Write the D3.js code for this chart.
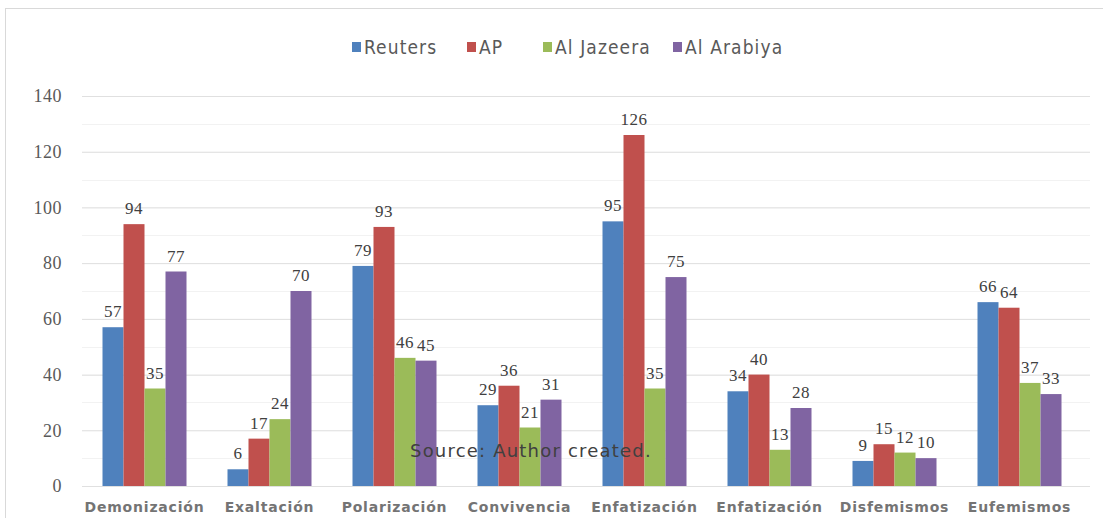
<!DOCTYPE html>
<html>
<head>
<meta charset="utf-8">
<script src="https://d3js.org/d3.v7.min.js"></script>
<style>
body { margin:0; background:#fff; }
</style>
</head>
<body>
<svg width="1103" height="518"></svg>
<script>
var categories = ["Demonización","Exaltación","Polarización","Convivencia","Enfatización","Enfatización","Disfemismos","Eufemismos"];
var seriesNames = ["Reuters","AP","Al Jazeera","Al Arabiya"];
var reuters = [57, 6, 79, 29, 95, 34, 9, 66];
var ap = [94, 17, 93, 36, 126, 40, 15, 64];
var alJazeera = [35, 24, 46, 21, 35, 13, 12, 37];
var alArabiya = [77, 70, 45, 31, 75, 28, 10, 33];
var yTicks = [0, 20, 40, 60, 80, 100, 120, 140];
var colors = ["#4f81bd","#c0504d","#9bbb59","#8064a2"];

var series = [reuters, ap, alJazeera, alArabiya];
var svg = d3.select("svg");

// outer frame
svg.append("rect").attr("x",5.5).attr("y",8.5).attr("width",1110).attr("height",530)
    .attr("fill","none").attr("stroke","#d9d9d9");

var x0 = d3.scaleBand().domain(d3.range(categories.length)).range([82,1082]);
var x1 = d3.scaleBand().domain(d3.range(4)).range([0, 84]);
var y = d3.scaleLinear().domain([0,140]).range([486,96]);

// minor gridlines
svg.append("g").selectAll("line").data(d3.range(10,140,10)).enter().append("line")
    .attr("x1",82).attr("x2",1090)
    .attr("y1",function(d){return Math.round(y(d))+0.5;})
    .attr("y2",function(d){return Math.round(y(d))+0.5;})
    .attr("stroke","#f2f2f2");

var yaxis = d3.axisLeft(y).tickValues(yTicks).tickSize(-1008).tickPadding(20);
var gy = svg.append("g").attr("transform","translate(82,0)").call(yaxis);
gy.select(".domain").remove();
gy.selectAll("line").attr("stroke","#e0e0e0");
gy.selectAll("text").style("font-family","Liberation Serif, DejaVu Serif").style("font-size","18px")
    .style("letter-spacing","0.5px").attr("fill","#595959");

// bars
var groups = svg.append("g").selectAll("g").data(categories).enter().append("g")
    .attr("transform",function(d,i){return "translate(" + (x0(i) + x0.bandwidth()/2 - 42) + ",0)";});

for (var s = 0; s < 4; s++) {
    (function(s){
        groups.append("rect")
            .attr("x", x1(s))
            .attr("width", x1.bandwidth())
            .attr("y", function(d,i){return y(series[s][i]);})
            .attr("height", function(d,i){return y(0) - y(series[s][i]);})
            .attr("fill", colors[s]);
        groups.append("text")
            .text(function(d,i){return series[s][i];})
            .attr("x", x1(s) + x1.bandwidth()/2)
            .attr("y", function(d,i){return y(series[s][i]) - 10;})
            .attr("text-anchor","middle")
            .style("font-family","Liberation Serif, DejaVu Serif")
            .style("font-size","17px")
            .style("letter-spacing","0.5px")
            .attr("fill","#404040");
    })(s);
}

// category labels
svg.append("g").selectAll("text").data(categories).enter().append("text")
    .text(function(d){return d;})
    .attr("x",function(d,i){return x0(i) + x0.bandwidth()/2;})
    .attr("y",512)
    .attr("text-anchor","middle")
    .style("font-family","DejaVu Sans")
    .style("font-weight","bold")
    .style("font-size","14px")
    .style("letter-spacing","0.8px")
    .attr("fill","#747474");

// legend
var legendX = [352, 467, 543, 673];
var legend = svg.append("g").selectAll("g").data(seriesNames).enter().append("g")
    .attr("transform",function(d,i){return "translate(" + legendX[i] + ",47)";});
legend.append("rect").attr("x",0).attr("y",-5).attr("width",9).attr("height",10)
    .attr("fill",function(d,i){return colors[i];});
legend.append("text").text(function(d){return d;})
    .attr("x",12).attr("y",7)
    .style("font-family","DejaVu Sans Condensed, DejaVu Sans")
    .style("font-stretch","condensed")
    .style("font-size","19px")
    .style("letter-spacing","1.1px")
    .attr("fill","#595959");

svg.append("text").text("Source: Author created.")
    .attr("x",410).attr("y",457)
    .style("font-family","DejaVu Sans")
    .style("font-size","18px")
    .style("letter-spacing","1.2px")
    .attr("fill","#404040");
</script>
</body>
</html>
